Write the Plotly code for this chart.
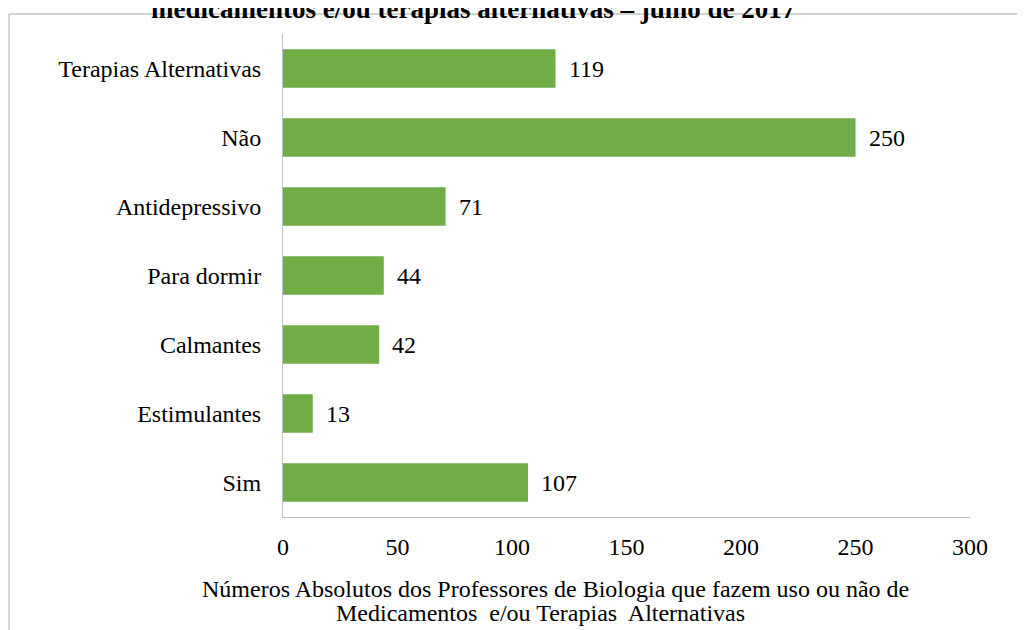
import plotly.graph_objects as go

categorias = ["Sim", "Estimulantes", "Calmantes", "Para dormir",
              "Antidepressivo", "Não", "Terapias Alternativas"]
valores = [107, 13, 42, 44, 71, 250, 119]
x_ticks = [0, 50, 100, 150, 200, 250, 300]

titulo = "medicamentos e/ou terapias alternativas – julho de 2017"
titulo_eixo_l1 = "Números Absolutos dos Professores de Biologia que fazem uso ou não de"
titulo_eixo_l2 = "Medicamentos  e/ou Terapias  Alternativas"

FONTE = "'Liberation Serif', 'Times New Roman', serif"
VERDE = "#70AD47"
TAM = 24

fig = go.Figure(go.Bar(
    x=valores, y=categorias, orientation="h",
    marker=dict(color=VERDE, line=dict(width=0)),
    hoverinfo="x+y",
))

# rótulos de valor à direita das barras
for cat, v in zip(categorias, valores):
    fig.add_annotation(
        x=v, y=cat, xref="x", yref="y", text=str(v),
        showarrow=False, xanchor="left", xshift=11,
        font=dict(family=FONTE, size=TAM, color="#000"),
    )

# título (cortado no topo, como no original)
fig.add_annotation(
    text=f"<b>{titulo}</b>", xref="paper", yref="paper",
    x=0.276, y=1.052, xanchor="center", yanchor="middle",
    showarrow=False, font=dict(family=FONTE, size=27, color="#000"),
)

# título do eixo x, em duas linhas
fig.add_annotation(
    text=titulo_eixo_l1, xref="paper", yref="paper",
    x=0.397, y=-0.149, xanchor="center", yanchor="middle",
    showarrow=False, font=dict(family=FONTE, size=TAM, color="#000"),
)
fig.add_annotation(
    text=titulo_eixo_l2, xref="paper", yref="paper",
    x=0.3755, y=-0.199, xanchor="center", yanchor="middle",
    showarrow=False, font=dict(family=FONTE, size=TAM, color="#000"),
)

# moldura do gráfico
fig.add_shape(
    type="rect", xref="paper", yref="paper",
    x0=-0.3988, x1=1.09, y0=-0.26, y1=1.0414,
    line=dict(color="#a6a6a6", width=1), fillcolor="rgba(0,0,0,0)",
    layer="below",
)

fig.update_xaxes(
    range=[0, 300], tickvals=x_ticks, showgrid=False, zeroline=False,
    showline=True, linecolor="#BFBFBF", linewidth=1, ticks="",
    ticklabelstandoff=8,
    tickfont=dict(family=FONTE, size=TAM, color="#000"),
)
fig.update_yaxes(
    showgrid=False, zeroline=False, showline=True, linecolor="#BFBFBF",
    linewidth=1, ticks="", ticklabelstandoff=16,
    tickfont=dict(family=FONTE, size=TAM, color="#000"),
)

fig.update_layout(
    width=1017, height=622,
    margin=dict(l=275, r=55, t=26, b=113),
    paper_bgcolor="white", plot_bgcolor="white",
    bargap=0.44, showlegend=False,
    font=dict(family=FONTE),
)

fig.write_html("out.html")
